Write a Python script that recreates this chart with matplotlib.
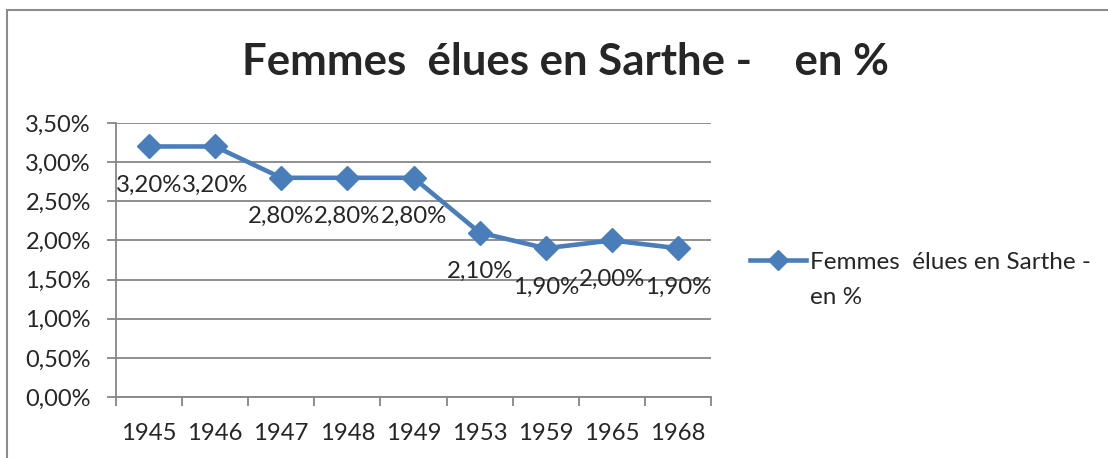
import matplotlib
matplotlib.use("Agg")
import matplotlib.pyplot as plt
from matplotlib.patches import Rectangle
from matplotlib.ticker import FuncFormatter, FixedLocator

years = ["1945", "1946", "1947", "1948", "1949", "1953", "1959", "1965", "1968"]
values = [3.20, 3.20, 2.80, 2.80, 2.80, 2.10, 1.90, 2.00, 1.90]
title = "Femmes  élues en Sarthe -    en %"
series_name_l1 = "Femmes  élues en Sarthe -"
series_name_l2 = "en %"

plt.rcParams['font.family'] = ['Lato', 'DejaVu Sans']
TEXT = "#262626"
GRID = "#868686"
BLUE = "#4A7EBB"

W, H = 1108, 458
fig = plt.figure(figsize=(W / 100, H / 100), dpi=100)
ax = fig.add_axes([116 / W, 1 - 397 / H, (711 - 116) / W, (397 - 123) / H])

x = list(range(len(years)))
line, = ax.plot(x, values, color=BLUE, lw=3.3, marker='D', markersize=12,
                markerfacecolor=BLUE, markeredgecolor=BLUE, zorder=3,
                label=series_name_l1)

for xi, v in zip(x, values):
    ax.annotate(f"{v:.2f}%".replace('.', ','), (xi, v), xytext=(0, -28),
                textcoords='offset points', ha='center', va='center',
                fontsize=17.3, color=TEXT, zorder=4)

ax.set_xlim(-0.5, len(years) - 0.5)
ax.set_ylim(0, 3.5)
ax.set_yticks([i * 0.5 for i in range(8)])
ax.yaxis.set_major_formatter(FuncFormatter(lambda v, p: f"{v:.2f}%".replace('.', ',')))
ax.grid(axis='y', color=GRID, lw=1.3)
ax.set_axisbelow(True)

ax.set_xticks(x)
ax.set_xticklabels(years)
ax.xaxis.set_minor_locator(FixedLocator([i - 0.5 for i in range(len(years) + 1)]))
ax.tick_params(axis='x', which='major', length=0, pad=19, labelsize=17.2, labelcolor=TEXT)
ax.tick_params(axis='x', which='minor', length=6.5, width=1.3, color=GRID, direction='out')
ax.tick_params(axis='y', length=6.5, width=1.3, color=GRID, pad=11.5, labelsize=17,
               labelcolor=TEXT)

for s in ['top', 'right']:
    ax.spines[s].set_visible(False)
for s in ['left', 'bottom']:
    ax.spines[s].set_color(GRID)
    ax.spines[s].set_linewidth(1.3)

fig.text(565 / W, 1 - 62 / H, title, ha='center', va='center', fontsize=31.5,
         fontweight='bold', color=TEXT)

leg = fig.legend(handles=[line], loc='center left', bbox_to_anchor=(750 / W, 1 - 262 / H),
                 frameon=False, fontsize=17.5, handlelength=2.3, handletextpad=0.16,
                 labelcolor=TEXT, borderaxespad=0, borderpad=0, markerscale=0.85)

fig.canvas.draw()
txt = leg.get_texts()[0]
bb = txt.get_window_extent()
fig.text(bb.x0 / W, 1 - 297 / H, series_name_l2, ha='left', va='center',
         fontsize=17.5, color=TEXT)

fig.patches.append(Rectangle((7 / W, -0.05), 1.1, 1 - 10 / H + 0.05,
                             transform=fig.transFigure, fill=False,
                             edgecolor="#8c8c8c", lw=1.5, clip_on=False))

fig.savefig("out.png", dpi=100)
